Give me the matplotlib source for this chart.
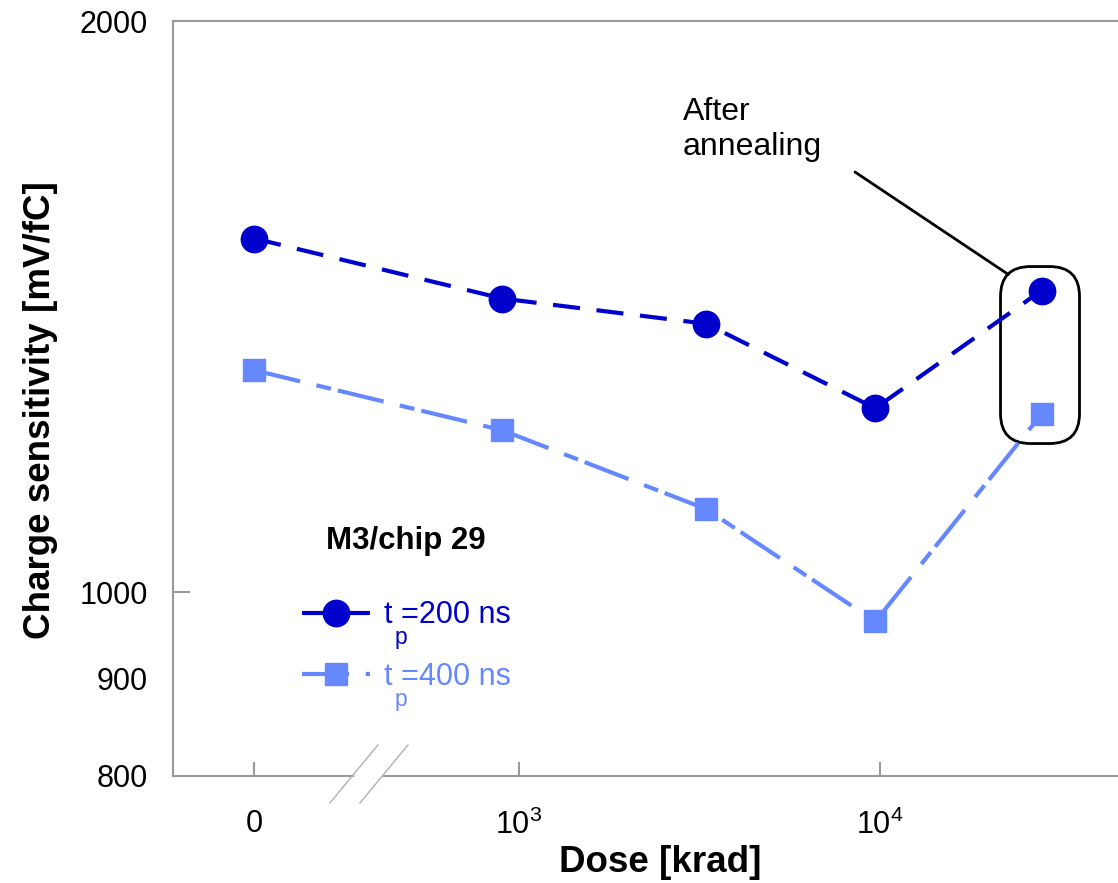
import numpy as np
import matplotlib
matplotlib.use("Agg")
import matplotlib.pyplot as plt
from matplotlib.patches import FancyBboxPatch
from matplotlib.transforms import ScaledTranslation

plt.rcParams['font.family'] = ['Liberation Sans', 'DejaVu Sans']
plt.rcParams['mathtext.fontset'] = 'custom'
plt.rcParams['mathtext.rm'] = 'Liberation Sans'
plt.rcParams['mathtext.default'] = 'regular'

# dose [krad] and charge sensitivity [mV/fC]
dose = [0, 900, 3300, 9700, 28000]
sens_200 = [1536, 1428, 1385, 1250, 1442]
sens_400 = [1309, 1217, 1106, 965, 1241]
series_labels = ['t =200 ns', 't =400 ns']
xtick_vals = [0, 1e3, 1e4]
xtick_labels = ['0', r'$10^{3}$', r'$10^{4}$']
ytick_vals = [800, 900, 1000, 2000]

ZERO_POS = 185  # where the zero dose sits on the broken log axis
dark = '#0000cc'
light = '#6688ff'
grey = '#9a9a9a'

def xpos(d):
    return [ZERO_POS if v == 0 else v for v in d]

fig = plt.figure(figsize=(11.18, 8.83), dpi=100)
ax = fig.add_axes([0.1547, 0.1212, 0.8453, 0.8550])

ax.plot(xpos(dose), sens_200, color=dark, lw=3, ls=(0, (6.5, 4)),
        marker='o', ms=19, mec=dark, label=series_labels[0])
ax.plot(xpos(dose), sens_400, color=light, lw=3, ls=(0, (11.3, 4, 3.6, 1.7)),
        marker='s', ms=16, mec=light, label=series_labels[1])

ax.set_xscale('log')
ax.set_yscale('log')
ax.set_xlim(10**2.0416, 10**4.659)
ax.set_ylim(800, 2000)

ax.set_xticks(xpos(xtick_vals))
ax.set_xticklabels(xtick_labels)
ax.xaxis.set_minor_locator(matplotlib.ticker.NullLocator())
ax.set_yticks(ytick_vals)
ax.set_yticklabels([str(v) for v in ytick_vals])
ax.yaxis.set_minor_locator(matplotlib.ticker.NullLocator())
for t in ax.yaxis.get_major_ticks():
    if t.get_loc() != 1000:
        t.tick1line.set_visible(False)

ax.tick_params(axis='both', direction='in', colors=grey, labelcolor='black',
               labelsize=22, width=1.5)
ax.tick_params(axis='x', length=10, pad=24)
ax.tick_params(axis='y', length=12, pad=18)

for side in ['left', 'bottom', 'top']:
    ax.spines[side].set_color(grey)
    ax.spines[side].set_linewidth(1.5)
ax.spines['right'].set_visible(False)

ax.set_xlabel('Dose [krad]', fontsize=26.5, fontweight='bold')
ax.set_ylabel('Charge sensitivity [mV/fC]', fontsize=26.5, fontweight='bold')
ax.xaxis.set_label_coords(0.516, -0.092)
ax.yaxis.set_label_coords(-0.122, 0.485)

# axis break marks
ax.plot([0.1947, 0.219], [0, 0], color='white', lw=4, transform=ax.transAxes,
        clip_on=False, zorder=5)
for x0 in [0.1661, 0.1979]:
    ax.plot([x0, x0 + 0.0508], [-0.0358, 0.0411], color='#b0b0b0', lw=1,
            transform=ax.transAxes, clip_on=False, zorder=6)

leg = ax.legend(loc='upper left', bbox_to_anchor=(0.107, 0.3675), frameon=False,
                fontsize=22, labelcolor='linecolor', handlelength=2.25,
                handletextpad=0.45, labelspacing=1.03,
                title='M3/chip 29',
                title_fontproperties={'weight': 'bold', 'size': 22.5})
leg._legend_box.sep = 32
# subscript p, dropped well below the t
for txt in leg.get_texts():
    ax.annotate('p', xy=(0, 0), xycoords=txt, xytext=(10, -14),
                textcoords='offset pixels', fontsize=16.5,
                color=txt.get_color(), va='baseline', zorder=7)

# box round the annealed points
box_tr = fig.dpi_scale_trans + ScaledTranslation(dose[-1], sens_200[-1], ax.transData)
box = FancyBboxPatch((-0.41, -1.53), 0.79, 1.77,
                     boxstyle='round,pad=0,rounding_size=0.3',
                     transform=box_tr, fill=False, ec='black', lw=2, clip_on=False)
ax.add_artist(box)

ax.text(0.5397, 0.899, 'After\nannealing', transform=ax.transAxes,
        fontsize=23, va='top', ha='left')
ax.annotate('', xy=(0.10, 0.955), xycoords=box,
            xytext=(0.7217, 0.80), textcoords='axes fraction',
            arrowprops=dict(arrowstyle='-', color='black', lw=2,
                            shrinkA=0, shrinkB=0))

fig.savefig('out.png', dpi=100)
